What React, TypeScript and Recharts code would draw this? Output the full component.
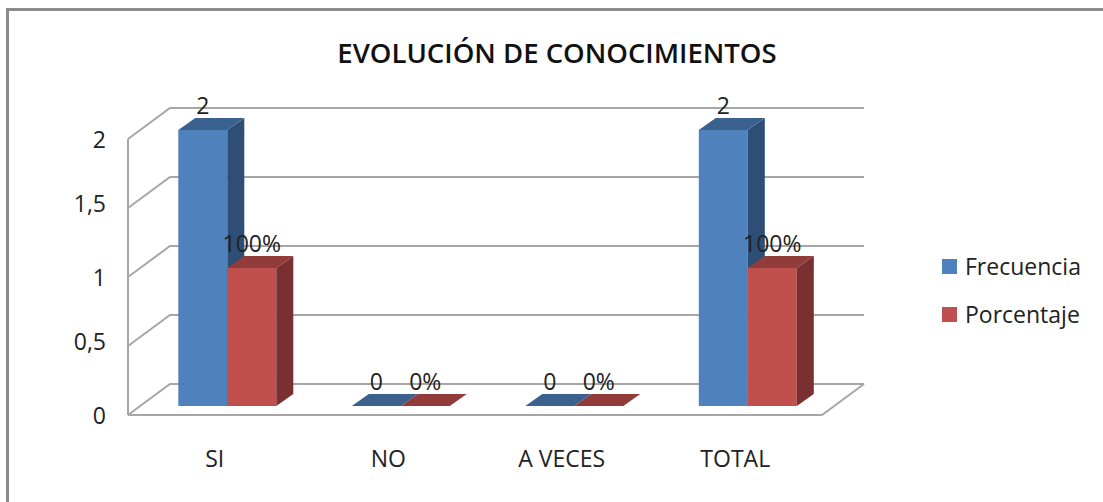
import { Bar, CartesianGrid, ComposedChart, LabelList, Legend, XAxis, YAxis } from 'recharts'

const categories = ['SI', 'NO', 'A VECES', 'TOTAL']
const frecuencia = [2, 0, 0, 2]
const porcentaje = [1, 0, 0, 1]
const porcentajeLabels = ['100%', '0%', '0%', '100%']
const yTicks = [0, 0.5, 1, 1.5, 2]

const data = categories.map((name, i) => ({
  name,
  frecuencia: frecuencia[i],
  porcentaje: porcentaje[i],
}))

const FONT = '"Open Sans", sans-serif'
const GRID = '#a6a6a6'

// the fake 3D: bars sit a bit behind the front edge of the floor
const SHIFT_X = 13
const SHIFT_Y = -9
const DEPTH_X = 17
const DEPTH_Y = 12
const WALL_X = 42
const WALL_Y = 31

const Box3D = (props: any) => {
  const { x, y, width, height, front, top, side } = props
  const l = x + SHIFT_X
  const r = l + width
  const t = y + SHIFT_Y
  const b = t + height
  return (
    <g>
      {height > 0 && <rect x={l} y={t} width={width} height={height} fill={front} />}
      {height > 0 && (
        <polygon
          points={`${r},${t} ${r + DEPTH_X},${t - DEPTH_Y} ${r + DEPTH_X},${b - DEPTH_Y} ${r},${b}`}
          fill={side}
        />
      )}
      <polygon
        points={`${l},${t} ${l + DEPTH_X},${t - DEPTH_Y} ${r + DEPTH_X},${t - DEPTH_Y} ${r},${t}`}
        fill={top}
      />
    </g>
  )
}

const GridLine = (props: any) => {
  const { x1, x2, y1, index } = props
  return (
    <g key={index}>
      <polyline
        points={`${x1},${y1} ${x1 + WALL_X},${y1 - WALL_Y} ${x2 + WALL_X},${y1 - WALL_Y}`}
        fill="none"
        stroke={GRID}
        strokeWidth={2}
      />
      {y1 > 400 && (
        <polyline
          points={`${x1},${y1} ${x2},${y1} ${x2 + WALL_X},${y1 - WALL_Y}`}
          fill="none"
          stroke={GRID}
          strokeWidth={2}
        />
      )}
    </g>
  )
}

const BarLabel = (props: any) => {
  const { x, y, width, value, index, texts } = props
  return (
    <text
      x={x + width / 2 + SHIFT_X}
      y={y + SHIFT_Y - 25}
      textAnchor="middle"
      dominantBaseline="central"
      fontFamily={FONT}
      fontSize={23}
      fill="#222"
    >
      {texts ? texts[index] : value}
    </text>
  )
}

// the half-unit labels sit slightly above their line in the original
const YTick = ({ y, payload }: any) => (
  <text
    x={106}
    y={y + (payload.value % 1 ? -5 : 0)}
    textAnchor="end"
    dominantBaseline="central"
    fontFamily={FONT}
    fontSize={23}
    fill="#222"
  >
    {String(payload.value).replace('.', ',')}
  </text>
)

const LegendBox = ({ payload }: any) => (
  <div>
    {payload.map((item: any) => (
      <div key={item.value} style={{ display: 'flex', alignItems: 'center', height: 48, fontFamily: FONT, fontSize: 23, color: '#222' }}>
        <span style={{ width: 15, height: 15, background: item.color, marginRight: 8 }} />
        {item.value}
      </div>
    ))}
  </div>
)

export default function App() {
  return (
    <div style={{ position: 'absolute', left: 0, top: 0, width: 1103, height: 502, background: '#fff', overflow: 'hidden' }}>
      <div style={{ position: 'absolute', left: 6, top: 8, right: 0, bottom: 0, borderLeft: '3px solid #8c8c8c', borderTop: '3px solid #8c8c8c' }} />
      <div
        style={{
          position: 'absolute',
          left: 257,
          width: 600,
          top: 34,
          textAlign: 'center',
          fontFamily: FONT,
          fontWeight: 600,
          fontSize: 27.5,
          lineHeight: '38px',
          color: '#111',
        }}
      >
        EVOLUCIÓN DE CONOCIMIENTOS
      </div>
      <ComposedChart
        width={1103}
        height={502}
        data={data}
        barGap={0}
        barCategoryGap="21.5%"
        margin={{ top: 139, right: 121, bottom: 0, left: 0 }}
        style={{ position: 'absolute', left: 0, top: 0 }}
      >
        <CartesianGrid vertical={false} horizontal={GridLine} />
        <XAxis
          dataKey="name"
          height={87}
          tickLine={false}
          axisLine={false}
          tickMargin={30}
          tick={{ fontFamily: FONT, fontSize: 23, fill: '#222' }}
        />
        <YAxis
          domain={[0, 2]}
          ticks={yTicks}
          width={128}
          tickLine={false}
          axisLine={{ stroke: GRID, strokeWidth: 2 }}
          tick={<YTick />}
        />
        <Legend
          layout="vertical"
          align="right"
          verticalAlign="top"
          content={LegendBox}
          wrapperStyle={{ left: 942, top: 242, width: 160 }}
        />
        <Bar
          dataKey="frecuencia"
          name="Frecuencia"
          fill="#4f81bd"
          isAnimationActive={false}
          shape={<Box3D front="#4f81bd" top="#3b618f" side="#2f4e75" />}
        >
          <LabelList dataKey="frecuencia" content={<BarLabel />} />
        </Bar>
        <Bar
          dataKey="porcentaje"
          name="Porcentaje"
          fill="#c0504d"
          isAnimationActive={false}
          shape={<Box3D front="#c0504d" top="#913c3a" side="#7a3030" />}
        >
          <LabelList dataKey="porcentaje" content={<BarLabel texts={porcentajeLabels} />} />
        </Bar>
      </ComposedChart>
    </div>
  )
}
